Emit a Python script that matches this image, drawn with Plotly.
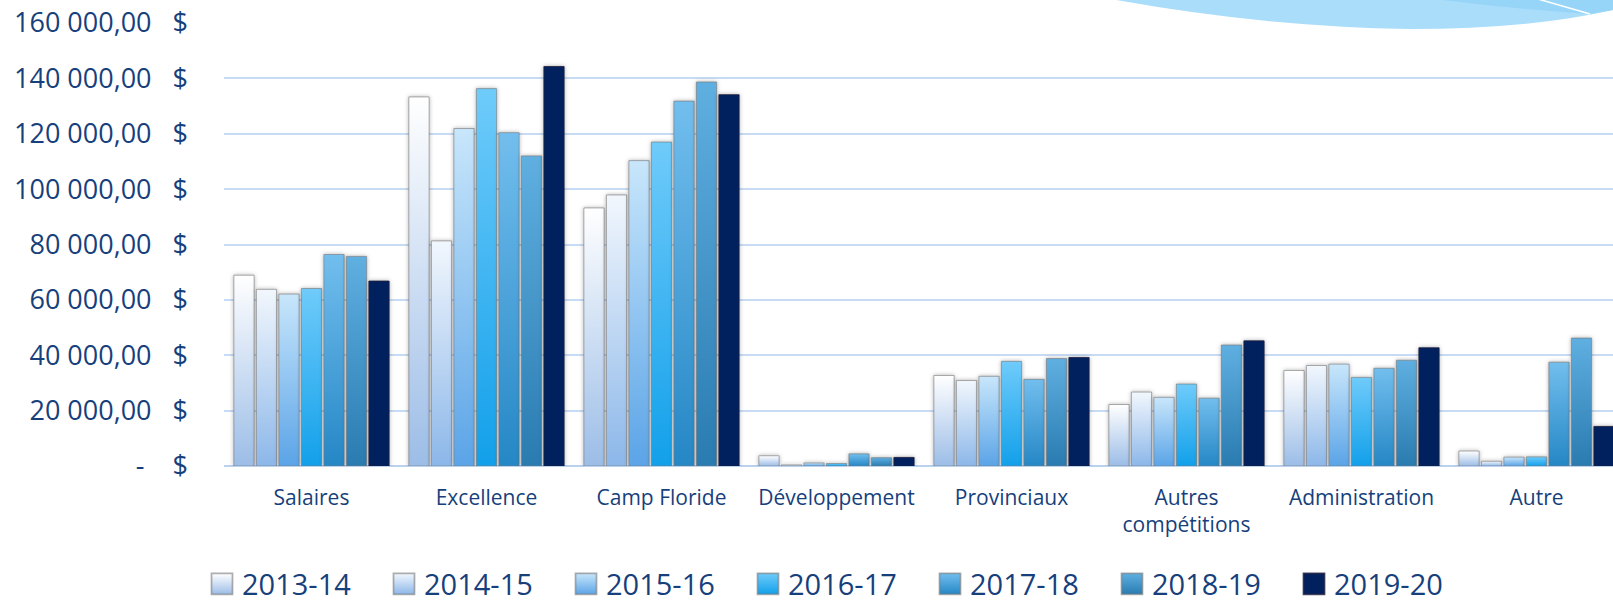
import plotly.graph_objects as go

categories = ["Salaires", "Excellence", "Camp Floride", "Développement",
              "Provinciaux", "Autres compétitions", "Administration", "Autre"]
category_labels = ["Salaires", "Excellence", "Camp Floride", "Développement",
                   "Provinciaux", "Autres<br>compétitions", "Administration", "Autre"]

years = ["2013-14", "2014-15", "2015-16", "2016-17", "2017-18", "2018-19", "2019-20"]

v_2013_14 = [68900, 133300, 93200, 3700, 32700, 22200, 34500, 5400]
v_2014_15 = [63800, 81300, 97900, 400, 30900, 26700, 36300, 1700]
v_2015_16 = [62100, 121900, 110300, 1100, 32400, 24800, 36800, 3200]
v_2016_17 = [64100, 136300, 117000, 900, 37800, 29600, 32000, 3300]
v_2017_18 = [76400, 120400, 131800, 4400, 31300, 24500, 35300, 37500]
v_2018_19 = [75700, 112000, 138700, 3000, 38800, 43700, 38200, 46200]
v_2019_20 = [66800, 144300, 134100, 3100, 39200, 45200, 42700, 14300]
series = [v_2013_14, v_2014_15, v_2015_16, v_2016_17, v_2017_18, v_2018_19, v_2019_20]

y_tickvals = [0, 20000, 40000, 60000, 80000, 100000, 120000, 140000, 160000]
NB = "\u00a0"
y_ticktext = ["-" + NB * 4 + "$"] + [
    f"{v // 1000}{NB}000,00{NB * 3}$" for v in y_tickvals[1:]
]

# gradient (top, bottom) per series and a flat mid-tone fallback
grad_top = ["#FFFFFF", "#F2F7FD", "#C8E6FB", "#6FCBFA", "#72BEEE", "#5FAFE1", "#01215E"]
grad_bot = ["#9CBDE7", "#8CB7E9", "#5BA4E7", "#12A0EA", "#2587C5", "#2A7BB0", "#01215E"]
flat = ["#DCE7F5", "#C9DDF4", "#94C6F1", "#3FB5F2", "#4AA3DA", "#4495C9", "#01215E"]
line_cols = ["rgba(120,120,120,0.6)"] * 6 + ["rgba(30,30,60,0.8)"]

TXT = "#173F7C"
W, H = 1613, 605
ML, MT, MB = 224, 23, 139
PW, PH = W - ML, H - MT - MB

fig = go.Figure()
for name, vals, fc, lc in zip(years, series, flat, line_cols):
    fig.add_trace(go.Bar(
        name=name, x=categories, y=vals,
        marker=dict(color=fc, line=dict(color=lc, width=1)),
    ))


def px2paper(pts):
    return [((x - ML) / PW, (MT + PH - y) / PH) for x, y in pts]


def path_str(cmds):
    out = []
    for c, pts in cmds:
        p = px2paper(pts)
        out.append(c + " ".join(f"{a:.5f},{b:.5f}" for a, b in p))
    return " ".join(out) + " Z"


swoosh = path_str([
    ("M", [(1100, -3)]),
    ("Q", [(1260, 27), (1410, 29)]),
    ("Q", [(1530, 29), (1613, 10)]),
    ("L", [(1613, -3)]),
])
swoosh2 = path_str([
    ("M", [(1420, -3)]),
    ("Q", [(1500, 8), (1589, 14)]),
    ("L", [(1613, 10)]),
    ("L", [(1613, -3)]),
])
wl = px2paper([(1538, -1), (1590, 14)])

fig.update_layout(
    width=W, height=H,
    margin=dict(l=ML, r=0, t=MT, b=MB, pad=0, autoexpand=False),
    paper_bgcolor="white", plot_bgcolor="white",
    font=dict(family="Open Sans, Lato, sans-serif", color=TXT),
    barmode="group", bargap=0.1, bargroupgap=0.1,
    showlegend=True,
    legend=dict(
        orientation="h", xref="container", yref="container",
        x=202 / W, xanchor="left", y=1 - 584 / H, yanchor="middle",
        font=dict(size=29, color=TXT), entrywidth=137, entrywidthmode="pixels",
        traceorder="normal", bgcolor="rgba(0,0,0,0)",
    ),
    xaxis=dict(
        type="category", range=[-0.5, -0.5 + PW / 175.0], automargin=False,
        tickmode="array", tickvals=categories, ticktext=category_labels,
        tickfont=dict(size=21, color=TXT), showgrid=False, showline=False,
        ticks="", ticklabelstandoff=17, fixedrange=True,
    ),
    yaxis=dict(
        range=[0, 160000], tickmode="array", tickvals=y_tickvals, ticktext=y_ticktext,
        automargin=False,
        tickfont=dict(size=27, color=TXT), showgrid=True, gridcolor="#C8DBF4",
        gridwidth=1.6, zeroline=True, zerolinecolor="#BBD2EE", zerolinewidth=2,
        showline=False, ticks="", ticklabelstandoff=35, fixedrange=True,
    ),
    shapes=[
        dict(type="path", path=swoosh, xref="paper", yref="paper",
             fillcolor="#A9DDFA", line=dict(width=0), layer="below"),
        dict(type="path", path=swoosh2, xref="paper", yref="paper",
             fillcolor="#97D5F8", line=dict(width=0), layer="below"),
        dict(type="line", xref="paper", yref="paper", x0=wl[0][0], y0=wl[0][1],
             x1=wl[1][0], y1=wl[1][1], line=dict(color="white", width=1.5), layer="below"),
    ],
)

grads_js = ",".join(f"['{t}','{b}']" for t, b in zip(grad_top, grad_bot))
post = """
(function(){
  document.body.style.margin = '0';
  document.body.style.overflow = 'hidden';
  var gd = document.getElementById('{plot_id}');
  var grads = [GRADS];
  var NS = 'http://www.w3.org/2000/svg';
  function apply(){
    var svg = gd.querySelector('.main-svg');
    if(!svg) return;
    var defs = svg.querySelector('defs');
    grads.forEach(function(g, i){
      var id = 'bargrad' + i;
      if(!document.getElementById(id)){
        var lg = document.createElementNS(NS, 'linearGradient');
        lg.setAttribute('id', id);
        lg.setAttribute('x1','0'); lg.setAttribute('y1','0');
        lg.setAttribute('x2','0'); lg.setAttribute('y2','1');
        [[0, g[0]], [1, g[1]]].forEach(function(s){
          var st = document.createElementNS(NS, 'stop');
          st.setAttribute('offset', s[0]);
          st.setAttribute('stop-color', s[1]);
          lg.appendChild(st);
        });
        defs.appendChild(lg);
      }
    });
    gd.querySelectorAll('.barlayer .trace').forEach(function(t, i){
      t.querySelectorAll('path').forEach(function(p){ p.style.fill = 'url(#bargrad' + i + ')'; });
      t.style.filter = 'drop-shadow(0px 0px 2px rgba(0,0,0,0.30))';
    });
    gd.querySelectorAll('.legend .traces').forEach(function(t, i){
      var p = t.querySelector('.legendpoints path');
      if(p){
        p.style.fill = 'url(#bargrad' + i + ')';
        if(!p.getAttribute('data-scaled')){
          var tr = p.getAttribute('transform') || '';
          p.setAttribute('transform', tr + ' scale(1.75)');
          p.setAttribute('data-scaled', '1');
        }
      }
    });
  }
  apply();
  gd.on('plotly_afterplot', apply);
})();
""".replace("GRADS", grads_js)

fig.write_html("out.html", post_script=post, config={"displayModeBar": False})
